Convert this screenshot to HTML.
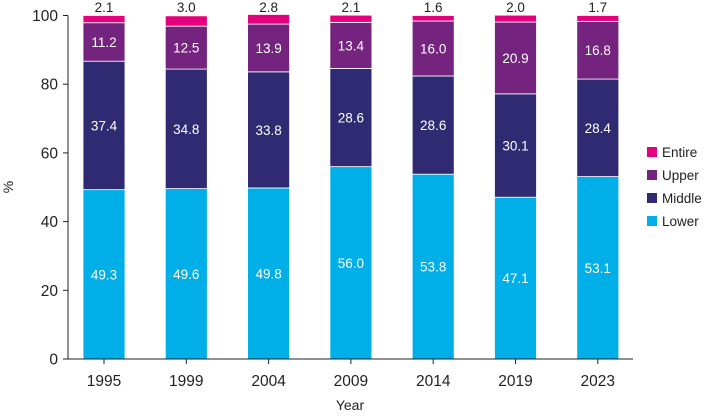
<!DOCTYPE html>
<html><head><meta charset="utf-8"><style>
body{margin:0;background:#fff;}
svg text{font-family:"Liberation Sans",sans-serif;}
</style></head><body>
<svg id="c" width="706" height="415" xmlns="http://www.w3.org/2000/svg"></svg>
<script>
const years=["1995","1999","2004","2009","2014","2019","2023"];
const lower=[49.3,49.6,49.8,56.0,53.8,47.1,53.1];
const middle=[37.4,34.8,33.8,28.6,28.6,30.1,28.4];
const upper=[11.2,12.5,13.9,13.4,16.0,20.9,16.8];
const entire=[2.1,3.0,2.8,2.1,1.6,2.0,1.7];
const yTicks=[0,20,40,60,80,100];
const seriesNames=["Lower","Middle","Upper","Entire"];
const colors=["#00aee8","#2f2a72","#74237f","#e5007d"];
const svg=document.getElementById('c');
const NS="http://www.w3.org/2000/svg";
const y0=359,y100=15.5,x0=68,xEnd=633,bw=42;
function y(v){return y0-(y0-y100)*v/100;}
function x(i){return 104+i*82.3;}
function el(t,a,txt){const e=document.createElementNS(NS,t);for(const k in a)e.setAttribute(k,a[k]);if(txt!==undefined)e.textContent=txt;svg.appendChild(e);return e;}
const data=[lower,middle,upper,entire];
years.forEach((yr,i)=>{
  let cum=0;
  data.forEach((s,j)=>{
    const v=s[i];
    const r=el('rect',{x:x(i)-bw/2,y:y(cum+v),width:bw,height:y(cum)-y(cum+v),fill:colors[j],stroke:'#fff','stroke-width':0.8});
    
    
    let t;
    if(j<3){
      t=el('text',{x:x(i),y:y(cum+v/2)+5,'text-anchor':'middle','font-size':13.5,fill:'#fff'},v.toFixed(1));
    } else {
      t=el('text',{x:x(i),y:12,'text-anchor':'middle','font-size':13.5,fill:'#222'},v.toFixed(1));
    }
    
    
    cum+=v;
  });
  el('line',{x1:x(i),x2:x(i),y1:y0,y2:y0+5,stroke:'#222'});
  const xl=el('text',{x:x(i),y:386,'text-anchor':'middle','font-size':15.5,fill:'#222'},yr);
  
  
});
el('line',{x1:x0,x2:xEnd,y1:y0,y2:y0,stroke:'#222'});
el('line',{x1:x0,x2:x0,y1:y100,y2:y0,stroke:'#222'});
yTicks.forEach(v=>{
  el('line',{x1:x0-5,x2:x0,y1:y(v),y2:y(v),stroke:'#222'});
  const t=el('text',{x:x0-10,y:y(v)+5.5,'text-anchor':'end','font-size':15.5,fill:'#222'},String(v));
  
  
});
const xt=el('text',{x:350,y:410,'text-anchor':'middle','font-size':14,fill:'#222'},'Year');


const yt=el('text',{x:13,y:187,'text-anchor':'middle','font-size':14,fill:'#222',transform:'rotate(-90 13 187)'},'%');


[3,2,1,0].forEach((j,k)=>{
  const ly=152+k*23;
  const r=el('rect',{x:647,y:ly-5,width:10,height:10,fill:colors[j]});
  
  
  const t=el('text',{x:662,y:ly+5,'font-size':13.5,fill:'#222'},seriesNames[j]);
  
  
});
</script>
</body></html>
